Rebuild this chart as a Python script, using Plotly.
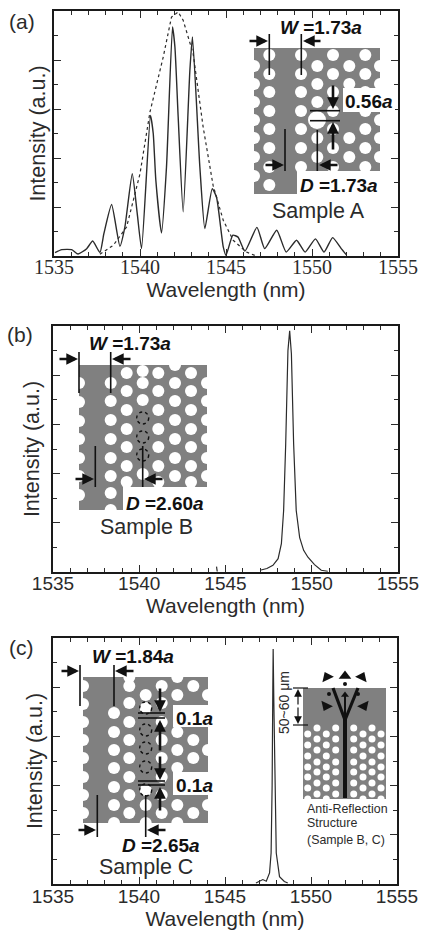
import plotly.graph_objects as go

# ---------- data ----------
a_wavelength = [1535.06,1535.45,1536.03,1536.4,1536.9,1537.25,1537.67,1537.9,1538.35,1538.83,1539.12,1539.55,1539.84,1540.09,1540.61,1540.77,1540.92,1541.25,1541.54,1541.89,1542.03,1542.22,1542.51,1542.9,1543.05,1543.48,1543.77,1544.2,1544.45,1544.84,1545.0,1545.4,1545.7,1546.1,1546.8,1547.25,1547.95,1548.5,1549.1,1549.6,1550.2,1550.7,1551.2,1551.7,1552.0]
a_intensity  = [1.4,2.6,2.6,0.8,3,6.1,1.4,9.1,21,4,11.8,33.6,17.3,3,57.4,50,31,9.4,36.3,93.5,85.3,56.7,18,75.8,89.4,36.3,11.2,27.5,24,3.7,0.3,8.5,7.7,2,11.7,3,10.5,1.6,6.4,1.6,7,1.6,7.5,3,0.5]
a_env_wavelength = [1537.67,1538.45,1539.22,1540,1540.58,1541.35,1541.83,1542.22,1542.51,1543.09,1543.67,1544.25,1544.84,1545.42,1546.19,1546.77]
a_env_intensity  = [0.7,4.4,11.8,33.6,58.8,81.2,97.5,99.6,96.2,82.6,52.7,28.8,14.6,6.4,1.6,0]
b_wavelength = [1544.48,1544.52,None,1547,1547.4,1547.75,1548.05,1548.24,1548.37,1548.49,1548.62,1548.72,1548.82,1548.95,1549.1,1549.3,1549.53,1549.78,1550.16,1550.55,1550.93]
b_intensity  = [2.2,0.2,None,0.7,1.4,2.7,5.4,11.5,25,52,90,98,88.7,52,25,14,8.8,6,3,0.7,0.3]
c_wavelength = [1546.8,1547.2,1547.4,1547.59,1547.68,1547.74,1547.78,1547.8,1547.84,1547.9,1547.98,1548.17,1548.45,1548.65]
c_intensity  = [0.4,1.8,1.1,4.5,12.6,40,80,95.5,73.6,40,12.6,3,1,0.4]

x_range = [1535, 1555]
y_range = [0, 100]
x_major = [1535, 1540, 1545, 1550, 1555]
panel_labels = ["(a)", "(b)", "(c)"]

INK = "#2b2b2b"
GRAY = "#808080"
W, H = 422, 933
SANS = "Liberation Sans"
SERIF = "Liberation Serif"

fig = go.Figure()

boxes = [(54, 398, 11, 256), (53, 398, 326, 572), (53, 397, 638, 884)]
tick_fonts = [(SERIF, 20), (SANS, 19), (SANS, 19)]
tick_shift = [-8, -7, -6]
standoffs_x = [0, 0, 4]
standoffs_y = [0, 5, 2]
for i, (x0, x1, y0, y1) in enumerate(boxes):
    s = "" if i == 0 else str(i + 1)
    fig.update_layout({
        f"xaxis{s}": dict(
            domain=[x0 / W, x1 / W], range=x_range, anchor=f"y{s}" if s else "y", automargin=False,
            tickmode="array", tickvals=x_major, ticktext=[str(v) for v in x_major], ticklabelstandoff=tick_shift[i],
            ticks="inside", ticklen=7, tickwidth=1.2, tickcolor=INK,
            minor=dict(dtick=1, ticks="inside", ticklen=4, tickwidth=1, tickcolor=INK, showgrid=False),
            showline=True, linewidth=2, linecolor="#1a1a1a", mirror="ticks", showgrid=False, zeroline=False,
            tickfont=dict(family=tick_fonts[i][0], size=tick_fonts[i][1], color=INK),
            title=dict(text="Wavelength (nm)", font=dict(family=SANS, size=21, color=INK), standoff=standoffs_x[i]),
        ),
        f"yaxis{s}": dict(
            domain=[1 - y1 / H, 1 - y0 / H], range=y_range, anchor=f"x{s}" if s else "x", automargin=False,
            tickmode="linear", tick0=0, dtick=20, showticklabels=False,
            ticks="inside", ticklen=7, tickwidth=1.2, tickcolor=INK,
            minor=dict(dtick=10, ticks="inside", ticklen=4, tickwidth=1, tickcolor=INK, showgrid=False),
            showline=True, linewidth=2, linecolor="#1a1a1a", mirror="ticks", showgrid=False, zeroline=False,
            title=dict(text="Intensity (a.u.)", font=dict(family=SANS, size=21.5, color=INK), standoff=standoffs_y[i]),
        ),
    })

line = dict(color=INK, width=1.2)
fig.add_trace(go.Scatter(x=a_wavelength, y=a_intensity, mode="lines", line=dict(color=INK, width=1.4, shape="spline", smoothing=0.5), xaxis="x", yaxis="y"))
fig.add_trace(go.Scatter(x=a_env_wavelength, y=a_env_intensity, mode="lines", line=dict(color=INK, width=1.2, dash="3px,3px"), xaxis="x", yaxis="y"))
fig.add_trace(go.Scatter(x=b_wavelength, y=b_intensity, mode="lines", line=line, xaxis="x2", yaxis="y2", connectgaps=False))
fig.add_trace(go.Scatter(x=c_wavelength, y=c_intensity, mode="lines", line=line, xaxis="x3", yaxis="y3"))

# ---------- pixel-unit overlay for the device schematics ----------
fig.update_layout(
    xaxis4=dict(domain=[0, 1], range=[0, W], visible=False, anchor="y4", fixedrange=True, automargin=False),
    yaxis4=dict(domain=[0, 1], range=[H, 0], visible=False, anchor="x4", fixedrange=True, automargin=False),
)
shapes, notes = [], []

def rect(x0, y0, x1, y1, color=GRAY):
    shapes.append(dict(type="rect", xref="x4", yref="y4", x0=x0, y0=y0, x1=x1, y1=y1,
                       fillcolor=color, line_width=0, layer="below"))

def seg(x0, y0, x1, y1, width=1.6):
    shapes.append(dict(type="line", xref="x4", yref="y4", x0=x0, y0=y0, x1=x1, y1=y1,
                       line=dict(color="#111", width=width)))

def arrow(x0, y0, x1, y1, width=2.6, size=0.9):
    notes.append(dict(xref="x4", yref="y4", axref="x4", ayref="y4", ax=x0, ay=y0, x=x1, y=y1,
                      text="", showarrow=True, arrowhead=2, arrowsize=size, arrowwidth=width, arrowcolor="#111"))

def label(x, y, text, size, anchor="center", color=INK, angle=0):
    notes.append(dict(xref="x4", yref="y4", x=x, y=y, text=text, showarrow=False, xanchor=anchor, yanchor="middle",
                      textangle=angle, font=dict(family=SANS, size=size, color=color)))

def dotted(x, y, r=6, fill=GRAY):
    shapes.append(dict(type="circle", xref="x4", yref="y4", x0=x - r, y0=y - r, x1=x + r, y1=y + r,
                       fillcolor=fill, line=dict(color="#111", width=1.4, dash="dot")))

def holes(columns, size):
    xs, ys = [], []
    for cx, rows in columns:
        for ry in rows:
            xs.append(cx); ys.append(ry)
    fig.add_trace(go.Scatter(x=xs, y=ys, mode="markers", xaxis="x4", yaxis="y4",
                             marker=dict(color="white", size=size, line_width=0)))

# --- Sample A
rect(254, 48, 380, 171); rect(254, 171, 297, 194); rect(343, 88, 395, 112, "white")
even_a = [55, 74, 92, 111, 129, 148, 167, 185]
odd_a = [66, 84, 102, 138, 157]
holes([(269.3, even_a), (301, even_a[:7]), (317.3, odd_a), (333, even_a[:7]),
       (349.3, odd_a), (365.3, even_a[:7]), (254, odd_a + [120, 176]), (380, odd_a + [120])], 12)
holes([(317, [120])], 18)
seg(269.3, 34, 269.3, 75); seg(301.3, 34, 301.3, 75)
arrow(248, 41, 268, 41); arrow(322, 41, 303, 41)
seg(285, 129, 285, 171); seg(317.3, 130, 317.3, 171)
arrow(264, 165, 284, 165); arrow(339, 165, 319, 165)
seg(310, 110.7, 340, 110.7); seg(310, 120.7, 340, 120.7)
arrow(333, 84, 333, 109); arrow(333, 151, 333, 122)
label(321, 27, "<b><i>W</i> =1.73<i>a</i></b>", 19, color="#111")
label(339, 185, "<b><i>D</i> =1.73<i>a</i></b>", 19, color="#111")
label(369, 101, "<b>0.56<i>a</i></b>", 19, color="#111")
label(318, 211, "Sample A", 21.5)

# --- Sample B
rect(79, 365, 207, 487); rect(79, 487, 123, 510)
col_b1 = [401, 420, 439, 458, 476, 493]
col_b2 = [373, 391, 410, 429, 447, 466, 482]
holes([(110.7, col_b1 + [383, 510]), (126.7, col_b2), (142.7, [371, 383, 400, 474]), (158.3, col_b2),
       (175, [365, 383, 401, 420, 439, 458, 476]), (191, col_b2), (207, [383, 401, 420, 439, 458, 476]),
       (79, [383, 402, 421, 439, 458, 476, 495])], 12)
for cy in [418, 437, 455]:
    dotted(142.7, cy)
seg(79, 352, 79, 393); seg(110.7, 352, 110.7, 393)
arrow(58, 359, 78, 359); arrow(132, 359, 112, 359)
seg(95.3, 446, 95.3, 487); seg(142.7, 446, 142.7, 487)
arrow(74, 479, 94, 479); arrow(164, 479, 144, 479)
label(130, 343, "<b><i>W</i> =1.73<i>a</i></b>", 19, color="#111")
label(165, 503, "<b><i>D</i> =2.60<i>a</i></b>", 19, color="#111")
label(146.5, 527, "Sample B", 21.5)

# --- Sample C
rect(83, 677, 208, 823); rect(173, 705, 210, 727, "white"); rect(173, 772, 210, 795, "white")
col_c1 = [695, 713, 732, 750, 768, 787, 805]
col_c2 = [686, 703, 722, 740, 758, 777, 795, 813]
holes([(114, col_c1[1:]), (129.3, col_c2), (145.7, [695, 805]), (161.7, col_c2),
       (177.3, [695, 732, 750, 768, 805, 823]), (193.3, [686, 740, 758, 813]), (208, [695, 750, 805]),
       (83, [686, 704, 722, 740, 758, 777, 795, 813]), (145.7, [823]), (114, [823]), (177.3, [677]), (129.3, [677])], 12)
for cy in [730, 748, 767]:
    dotted(145.7, cy)
dotted(145.7, 708, 6, "white"); dotted(145.7, 790, 6, "white")
seg(80, 665, 80, 706); seg(114, 665, 114, 706)
arrow(60, 671, 79, 671); arrow(135, 671, 115, 671)
seg(97.3, 795, 97.3, 837); seg(145.7, 795, 145.7, 837)
arrow(77, 830, 96, 830); arrow(167, 830, 147, 830)
seg(138, 713, 165, 713); seg(138, 718, 165, 718); seg(138, 781, 165, 781); seg(138, 785, 165, 785)
arrow(160, 687, 160, 712); arrow(160, 752, 160, 720); arrow(160, 755, 160, 780); arrow(160, 812, 160, 787)
label(132.5, 656, "<b><i>W</i> =1.84<i>a</i></b>", 19, color="#111")
label(160.5, 845, "<b><i>D</i> =2.65<i>a</i></b>", 19, color="#111")
label(194, 718, "<b>0.1<i>a</i></b>", 19, color="#111")
label(194, 785, "<b>0.1<i>a</i></b>", 19, color="#111")
label(146, 867, "Sample C", 21.5)

# --- Anti-reflection structure
rect(303, 688, 386, 799)
ar_a = [734, 745, 756, 767, 777, 788, 799]
ar_b = [728, 739, 750, 762, 772, 783, 794]
holes([(307.7, ar_a), (317, ar_b), (326.3, ar_a), (335.7, ar_b),
       (353.7, ar_b), (363, ar_a), (372, ar_b), (381, ar_a)], 7)
seg(345, 718, 345, 798, 4)
seg(345, 720, 333, 688, 3.2); seg(345, 720, 358, 688, 3.2); seg(345, 720, 345, 694, 2)
fig.add_trace(go.Scatter(x=[327, 345, 362, 326, 364], y=[677, 676, 677, 706, 706], mode="markers", xaxis="x4", yaxis="y4",
                         marker=dict(color="#111", size=11, symbol="triangle-up", angle=[-25, 0, 25, 205, 155], line_width=0)))
fig.add_trace(go.Scatter(x=[345], y=[695], mode="markers", xaxis="x4", yaxis="y4",
                         marker=dict(color="#111", size=7, symbol="triangle-up", line_width=0)))
fig.add_trace(go.Scatter(x=[345, 329, 358], y=[684, 694, 694], mode="markers", xaxis="x4", yaxis="y4",
                         marker=dict(color="#111", size=4)))
seg(293, 688, 308, 688, 1.2); seg(293, 725, 308, 725, 1.2)
arrow(298, 706, 298, 689, 1.2, 1.3); arrow(298, 706, 298, 724, 1.2, 1.3)
label(284, 703, "50~60 μm", 14, angle=-90)
label(305, 809, "Anti-Reflection", 12.4, anchor="left")
label(305, 823, "Structure", 12.4, anchor="left")
label(305, 840, "(Sample B, C)", 12.4, anchor="left")

# --- Panel letters
for text, px, py in zip(panel_labels, [22, 20, 21], [21, 334, 647]):
    label(px, py, text, 21)

fig.update_layout(
    width=W, height=H, margin=dict(l=0, r=0, t=0, b=0), showlegend=False,
    paper_bgcolor="white", plot_bgcolor="rgba(0,0,0,0)",
    shapes=shapes, annotations=notes,
)
fig.write_html("out.html", config=dict(displayModeBar=False), post_script="document.body.style.margin='0';")
